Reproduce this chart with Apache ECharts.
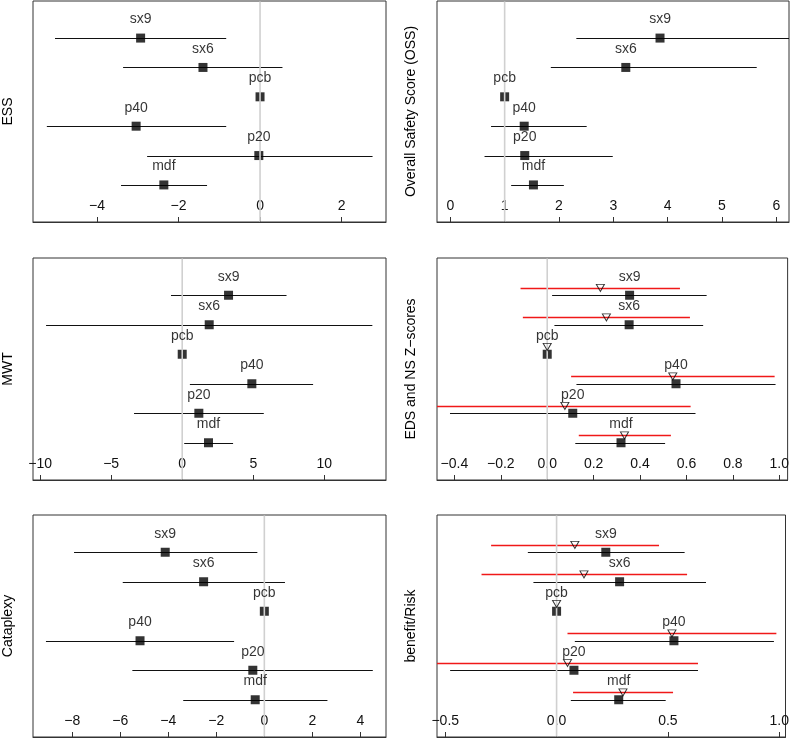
<!DOCTYPE html>
<html>
<head>
<meta charset="utf-8">
<script src="https://cdn.jsdelivr.net/npm/echarts@6/dist/echarts.min.js"></script>
<style>
html,body{margin:0;padding:0;background:#fff;}
#chart{width:792px;height:738px;}
</style>
</head>
<body>
<div id="chart"></div>
<script>
// ---------------- data ----------------
const categories = ['sx9', 'sx6', 'pcb', 'p40', 'p20', 'mdf'];

// ESS
const essEst = [-2.93, -1.40, 0, -3.04, -0.03, -2.36];
const essLo  = [-5.03, -3.36, null, -5.23, -2.77, -3.41];
const essHi  = [-0.83, 0.55, null, -0.83, 2.76, -1.30];
const essTicks = [-4, -2, 0, 2];

// Overall Safety Score (OSS)
const ossEst = [3.86, 3.23, 1, 1.36, 1.37, 1.53];
const ossLo  = [2.32, 1.85, null, 0.75, 0.63, 1.12];
const ossHi  = [7.0, 5.64, null, 2.51, 2.99, 2.09];
const ossTicks = [0, 1, 2, 3, 4, 5, 6];

// MWT
const mwtEst = [3.26, 1.90, 0, 4.90, 1.17, 1.85];
const mwtLo  = [-0.79, -9.58, null, 0.54, -3.39, 0.14];
const mwtHi  = [7.34, 13.38, null, 9.21, 5.74, 3.58];
const mwtTicks = [-10, -5, 0, 5, 10];

// EDS (black) and NS (red) Z-scores
const edsEst = [0.355, 0.353, 0, 0.555, 0.110, 0.318];
const edsLo  = [0.021, 0.031, null, 0.126, -0.419, 0.121];
const edsHi  = [0.687, 0.672, null, 0.984, 0.639, 0.508];
const nsEst  = [0.229, 0.255, 0, 0.541, 0.076, 0.333];
const nsLo   = [-0.115, -0.105, null, 0.103, -0.55, 0.136];
const nsHi   = [0.572, 0.615, null, 0.980, 0.618, 0.533];
const zTicks = [-0.4, -0.2, 0, 0.2, 0.4, 0.6, 0.8, 1.0];

// Cataplexy
const catEst = [-4.13, -2.53, 0, -5.18, -0.48, -0.38];
const catLo  = [-7.93, -5.90, null, -9.10, -5.50, -3.38];
const catHi  = [-0.29, 0.86, null, -1.26, 4.52, 2.63];
const catTicks = [-8, -6, -4, -2, 0, 2, 4];

// benefit/Risk (black and red)
const brEst  = [0.221, 0.283, 0, 0.527, 0.078, 0.279];
const brLo   = [-0.129, -0.104, null, 0.082, -0.478, 0.064];
const brHi   = [0.575, 0.671, null, 0.976, 0.635, 0.490];
const br2Est = [0.082, 0.123, 0, 0.518, 0.049, 0.298];
const br2Lo  = [-0.294, -0.337, null, 0.049, -0.65, 0.074];
const br2Hi  = [0.460, 0.586, null, 0.987, 0.635, 0.523];
const brTicks = [-0.5, 0, 0.5, 1.0];

// ---------------- layout ----------------
const FONT = 'Liberation Sans, Arial, Helvetica, sans-serif';
const panels = [
  {title: 'ESS', left: 33, top: 1, width: 353, height: 221, xmin: -5.57, xmax: 3.09, ticks: essTicks, dec: 0, ref: 0,
   black: [essEst, essLo, essHi]},
  {title: 'Overall Safety Score (OSS)', left: 437, top: 1, width: 352, height: 221, xmin: -0.245, xmax: 6.234, ticks: ossTicks, dec: 0, ref: 1,
   black: [ossEst, ossLo, ossHi]},
  {title: 'MWT', left: 33, top: 258, width: 353, height: 222, xmin: -10.50, xmax: 14.34, ticks: mwtTicks, dec: 0, ref: 0,
   black: [mwtEst, mwtLo, mwtHi]},
  {title: 'EDS and NS Z\u2212scores', left: 437, top: 258, width: 352, height: 222, xmin: -0.475, xmax: 1.036, ticks: zTicks, dec: 1, ref: 0,
   black: [edsEst, edsLo, edsHi], red: [nsEst, nsLo, nsHi]},
  {title: 'Cataplexy', left: 33, top: 515, width: 353, height: 222, xmin: -9.64, xmax: 5.07, ticks: catTicks, dec: 0, ref: 0,
   black: [catEst, catLo, catHi]},
  {title: 'benefit/Risk', left: 437, top: 515, width: 352, height: 222, xmin: -0.537, xmax: 1.028, ticks: brTicks, dec: 1, ref: 0,
   black: [brEst, brLo, brHi], red: [br2Est, br2Lo, br2Hi]}
];
const YMIN = -0.2625, YMAX = 7.2625, RED_OFF = 0.25;
const rowY = i => categories.length - i;

function fmt(dec) {
  return v => {
    const s = Number(v).toFixed(dec);
    return s.replace('-', '\u2212');
  };
}

const grid = [], xAxis = [], yAxis = [], series = [], graphic = [];

function barSeries(idx, lo, hi, off, color, width, z) {
  const data = [];
  lo.forEach((l, i) => { if (l != null && hi[i] != null) data.push([l, hi[i], rowY(i) + off]); });
  return {
    type: 'custom', xAxisIndex: idx, yAxisIndex: idx, z: z, silent: true,
    encode: {x: [0, 1], y: 2},
    data: data,
    renderItem: (params, api) => {
      const p1 = api.coord([api.value(0), api.value(2)]);
      const p2 = api.coord([api.value(1), api.value(2)]);
      const cs = params.coordSys;
      const x1 = Math.max(p1[0], cs.x), x2 = Math.min(p2[0], cs.x + cs.width);
      const y = Math.round(p1[1]) + 0.5;
      return {type: 'line', shape: {x1: x1, y1: y, x2: x2, y2: y},
              style: {stroke: color, lineWidth: width}};
    }
  };
}

panels.forEach((p, idx) => {
  grid.push({left: p.left, top: p.top, width: p.width, height: p.height, show: true,
             borderColor: '#333', borderWidth: 1, backgroundColor: 'transparent', containLabel: false});
  xAxis.push({
    type: 'value', gridIndex: idx, min: p.xmin, max: p.xmax, position: 'bottom',
    axisLine: {show: true, onZero: false, lineStyle: {color: '#333', width: 1}},
    axisTick: {show: true, inside: true, length: 5, customValues: p.ticks, lineStyle: {color: '#333', width: 1}},
    axisLabel: {show: true, inside: true, margin: 9, customValues: p.ticks, formatter: fmt(p.dec),
                color: '#111', fontSize: 14, fontFamily: FONT},
    splitLine: {show: false}
  });
  yAxis.push({type: 'value', gridIndex: idx, min: YMIN, max: YMAX, show: false, splitLine: {show: false}});

  const [est, lo, hi] = p.black;
  series.push(barSeries(idx, lo, hi, 0, '#111', 1, 2));
  if (p.red) series.push(barSeries(idx, p.red[1], p.red[2], RED_OFF, '#f01818', 1.3, 2));

  series.push({
    type: 'scatter', xAxisIndex: idx, yAxisIndex: idx, z: 3, silent: true,
    symbol: 'rect', symbolSize: 9, itemStyle: {color: '#000'},
    data: est.map((v, i) => [v, rowY(i)])
  });
  // reference line
  series.push({
    type: 'custom', xAxisIndex: idx, yAxisIndex: idx, z: 4, silent: true,
    data: [[p.ref]],
    encode: {x: 0},
    renderItem: (params, api) => {
      const c = api.coord([api.value(0), 0]);
      const cs = params.coordSys;
      return {type: 'line', shape: {x1: c[0], y1: cs.y + 0.5, x2: c[0], y2: cs.y + cs.height - 0.5},
              style: {stroke: '#d0d0d0', lineWidth: 1.6}};
    }
  });
  if (p.red) {
    series.push({
      type: 'scatter', xAxisIndex: idx, yAxisIndex: idx, z: 5, silent: true,
      symbol: 'triangle', symbolRotate: 180, symbolSize: [8, 7],
      itemStyle: {color: 'rgba(255,255,255,0)', borderColor: '#000', borderWidth: 1},
      data: p.red[0].map((v, i) => [v, rowY(i) + RED_OFF])
    });
  }
  // labels
  series.push({
    type: 'scatter', xAxisIndex: idx, yAxisIndex: idx, z: 6, silent: true,
    symbol: 'rect', symbolSize: 9, itemStyle: {color: 'rgba(0,0,0,0)'},
    label: {show: true, position: 'top', distance: 7, color: '#000', fontSize: 14, fontFamily: FONT,
            formatter: prm => categories[prm.dataIndex]},
    data: est.map((v, i) => [v, rowY(i)])
  });

  graphic.push({
    type: 'text', x: p.left < 200 ? 8 : 411, y: p.top + p.height / 2, rotation: Math.PI / 2,
    style: {text: p.title, font: '14px ' + FONT, fill: '#000',
            align: 'center', verticalAlign: 'middle', textAlign: 'center', textVerticalAlign: 'middle'}
  });
});

const chart = echarts.init(document.getElementById('chart'), null, {renderer: 'canvas'});
chart.setOption({animation: false, grid, xAxis, yAxis, series, graphic});
</script>
</body>
</html>
